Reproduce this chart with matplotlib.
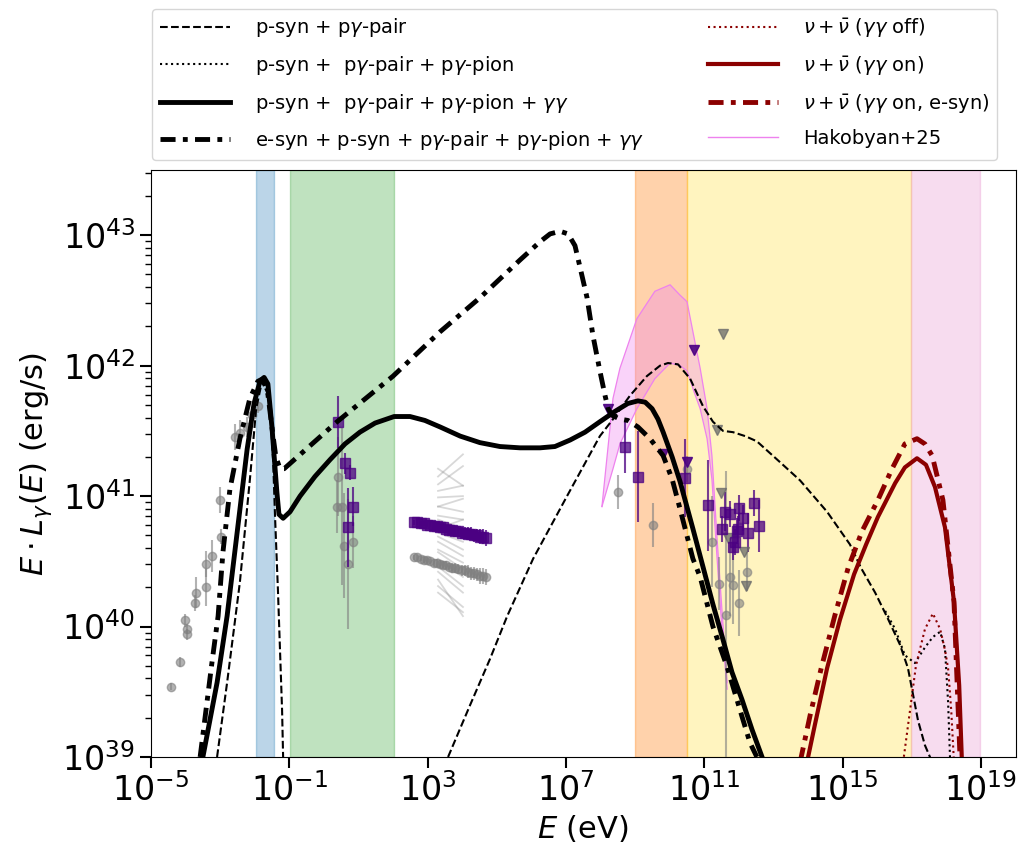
"""SED of the source: model curves, neutrino spectra and multiwavelength data."""

import matplotlib.pyplot as plt
import numpy as np
from matplotlib.lines import Line2D
from matplotlib.ticker import LogLocator, NullFormatter, NullLocator

# All values below are log10(E / eV) and log10(E L_E / erg s^-1)

# p-syn + pγ-pair (two pieces: low-energy bump, high-energy bump)
dash_lo_x = [-3.09, -2.80, -2.43, -2.14, -1.96, -1.79, -1.62, -1.56, -1.47, -1.41, -1.33, -1.27, -1.21, -1.18]
dash_lo_y = [39.00, 39.57, 40.34, 41.13, 41.67, 41.88, 41.78, 41.67, 41.28, 40.82, 40.28, 39.82, 39.36, 39.00]
dash_hi_x = [3.59, 4.23, 4.80, 5.30, 6.05, 7.03, 7.98, 8.36, 8.85, 9.34, 9.72, 9.95, 10.24, 10.59,
             10.96, 11.25, 11.54, 11.83, 12.18, 12.52, 13.19, 13.77, 14.55, 15.21, 15.53, 15.94,
             16.31, 16.66, 16.89, 17.18, 17.38, 17.59]
dash_hi_y = [39.00, 39.40, 39.75, 40.08, 40.52, 41.00, 41.46, 41.59, 41.77, 41.92, 42.00, 42.02, 42.01, 41.90,
             41.69, 41.57, 41.50, 41.49, 41.46, 41.42, 41.26, 41.12, 40.88, 40.63, 40.45, 40.26,
             40.06, 39.86, 39.68, 39.28, 39.09, 38.96]

# p-syn + pγ-pair + pγ-pion (only differs at the highest energies)
dot_x = [16.23, 16.52, 16.80, 17.09, 17.38, 17.61, 17.82, 17.96, 18.05, 18.11]
dot_y = [40.12, 39.98, 39.78, 39.72, 39.84, 39.92, 39.96, 39.83, 39.42, 38.96]

# p-syn + pγ-pair + pγ-pion + γγ
solid_x = [-3.50, -3.09, -2.80, -2.51, -2.22, -2.02, -1.85, -1.73, -1.62, -1.50, -1.36, -1.30, -1.18,
           -0.98, -0.69, -0.26, 0.18, 0.61, 1.04, 1.48, 2.03, 2.49, 2.92, 3.36, 3.94, 4.51, 5.09,
           5.67, 6.25, 6.68, 7.12, 7.55, 7.98, 8.42, 8.79, 9.08, 9.29, 9.49, 9.66, 9.81, 10.07,
           10.30, 10.67, 10.96, 11.25, 11.54, 11.80, 12.09, 12.38, 12.67]
solid_y = [39.00, 39.57, 40.08, 40.72, 41.36, 41.71, 41.88, 41.91, 41.86, 41.52, 41.03, 40.86, 40.83,
           40.88, 41.00, 41.15, 41.28, 41.40, 41.49, 41.56, 41.61, 41.61, 41.58, 41.53, 41.46, 41.41, 41.38,
           41.37, 41.37, 41.38, 41.43, 41.49, 41.57, 41.65, 41.71, 41.73, 41.72, 41.67, 41.59, 41.49, 41.30,
           41.11, 40.75, 40.46, 40.17, 39.90, 39.65, 39.44, 39.21, 39.00]

# e-syn + p-syn + pγ-pair + pγ-pion + γγ
dd_x = [-3.58, -3.24, -3.06, -2.92, -2.72, -2.43, -2.14, -1.91, -1.76, -1.62, -1.50, -1.39, -1.27, -1.15,
        -0.98, 0.38, 2.00, 3.36, 4.51, 5.67, 6.25, 6.54, 6.83, 7.06, 7.26, 7.41, 7.61, 7.78, 7.98, 8.13,
        8.22, 8.33, 8.56, 8.79, 9.08, 9.43, 9.81, 10.07, 10.30, 10.67, 10.88, 11.25, 11.66, 12.09, 12.32, 12.52]
dd_y = [39.00, 39.72, 40.08, 40.57, 41.05, 41.44, 41.75, 41.88, 41.90, 41.78, 41.52, 41.30, 41.21, 41.21,
        41.25, 41.57, 41.92, 42.26, 42.52, 42.81, 42.95, 43.01, 43.03, 43.01, 42.92, 42.75, 42.52, 42.23,
        41.96, 41.77, 41.67, 41.62, 41.59, 41.58, 41.53, 41.44, 41.31, 41.13, 40.90, 40.52, 40.38, 40.00,
        39.69, 39.31, 39.11, 39.00]

# neutrino spectra
nu_off_x = [16.75, 16.95, 17.12, 17.38, 17.61, 17.82, 17.96, 18.05, 18.14, 18.22]
nu_off_y = [38.96, 39.36, 39.70, 39.98, 40.10, 39.98, 39.82, 39.68, 39.36, 38.96]
nu_on_x = [13.97, 14.20, 14.55, 14.92, 15.33, 15.68, 16.02, 16.52, 16.80, 17.15, 17.41, 17.67, 17.96,
           18.22, 18.37, 18.45]
nu_on_y = [38.96, 39.25, 39.68, 40.05, 40.40, 40.63, 40.84, 41.10, 41.22, 41.29, 41.24, 41.07, 40.76,
           40.19, 39.55, 38.96]
nu_esyn_x = [13.77, 14.06, 14.38, 14.78, 15.16, 15.56, 16.02, 16.43, 16.80, 17.15, 17.38, 17.59, 17.90,
             18.22, 18.40]
nu_esyn_y = [38.96, 39.32, 39.68, 40.09, 40.45, 40.73, 40.97, 41.21, 41.40, 41.44, 41.40, 41.31, 40.97,
             40.19, 38.96]

# Hakobyan+25 band
hak_x = [8.04, 8.36, 8.56, 9.05, 9.57, 10.01, 10.30, 10.50, 10.73, 10.88, 11.08, 11.22, 11.37, 11.51, 11.66]
hak_hi = [40.92, 41.75, 41.98, 42.36, 42.57, 42.62, 42.54, 42.49, 42.18, 41.98, 41.67, 41.31, 40.67, 40.13, 39.57]
hak_lo = [40.92, 41.21, 41.40, 41.67, 41.90, 42.02, 42.00, 41.96, 41.78, 41.67, 41.44, 41.13, 40.52, 39.98, 39.52]

# energy bands (log10 E, lower/upper) and colours
band_lo = [-1.96, -0.98, 9.0, 10.50, 16.98]
band_hi = [-1.44, 2.03, 10.50, 16.98, 18.97]
band_colors = ["tab:blue", "tab:green", "tab:orange", "gold", "tab:pink"]
band_alpha = [0.3, 0.3, 0.35, 0.25, 0.25]

# data: archival (gray circles)
gray_x = [-4.42, -4.16, -3.96, -3.96, -4.02, -3.73, -3.70, -3.41, -3.41, -3.24, -2.98, -3.00, -2.57, -2.43,
          -2.22, -2.08, -1.91, 0.41, 0.38, 0.52, 0.58, 0.84, 0.70, 8.50, 9.52, 10.50, 11.22, 11.74, 11.83,
          11.43, 11.63, 12.00, 12.23]
gray_y = [39.54, 39.73, 39.94, 39.98, 40.05, 40.18, 40.26, 40.30, 40.48, 40.54, 40.69, 40.97, 41.45, 41.48,
          41.53, 41.62, 41.69, 41.15, 40.92, 40.92, 40.62, 40.65, 40.48, 41.03, 40.78, 41.21, 40.65, 40.38, 40.32,
          40.33, 40.09, 40.18, 40.42]
gray_err = [0.03, 0.04, 0.04, 0.04, 0.05, 0.06, 0.12, 0.14, 0.10, 0.12, 0.06, 0.10, 0.10, 0.10,
            0.08, 0.06, 0.05, 0.30, 0.20, 0.60, 0.40, 0.20, 0.50, 0.13, 0.17, 0.10, 0.35, 0.30, 0.30,
            0.20, 1.10, 0.25, 0.15]

# data: this work (purple squares)
sq_x = [0.41, 0.61, 0.75, 0.84, 0.70, 8.71, 9.08, 10.44, 11.11, 11.60, 11.74, 12.00, 12.12, 11.98, 11.51,
        11.95, 11.89, 11.83, 12.26, 12.44, 12.58]
sq_y = [41.57, 41.25, 41.18, 40.92, 40.76, 41.38, 41.15, 41.14, 40.93, 40.88, 40.86, 40.91, 40.83, 40.75, 40.75,
        40.73, 40.65, 40.61, 40.72, 40.95, 40.77]
sq_err = [0.20, 0.08, 0.06, 0.15, 0.30, 0.20, 0.35, 0.30, 0.35, 0.15, 0.10, 0.10, 0.10, 0.10, 0.10,
          0.10, 0.10, 0.10, 0.15, 0.10, 0.20]

# X-ray spectra (binned)
xr_x = [2.61, 2.70, 2.80, 2.90, 2.99, 3.08, 3.17, 3.26, 3.35, 3.44, 3.53, 3.62, 3.71, 3.80, 3.89, 3.98,
        4.07, 4.16, 4.25, 4.34, 4.43, 4.52, 4.61, 4.70]
xr_purple = [40.80, 40.80, 40.79, 40.79, 40.78, 40.78, 40.77, 40.77, 40.76, 40.76, 40.75, 40.74, 40.74,
             40.73, 40.73, 40.72, 40.72, 40.71, 40.71, 40.70, 40.70, 40.69, 40.69, 40.68]
xr_gray = [40.53, 40.53, 40.52, 40.51, 40.51, 40.50, 40.49, 40.49, 40.48, 40.47, 40.47, 40.46, 40.45,
           40.45, 40.44, 40.43, 40.43, 40.42, 40.41, 40.41, 40.40, 40.39, 40.39, 40.38]
xr_err = [0.02, 0.02, 0.02, 0.02, 0.02, 0.02, 0.03, 0.03, 0.03, 0.03, 0.03, 0.03, 0.04, 0.04, 0.04, 0.04,
          0.04, 0.05, 0.05, 0.05, 0.05, 0.06, 0.06, 0.06]

# X-ray power-law fits per epoch (value at each end)
pl_x = [3.30, 4.02]
pl_left = [41.15, 41.09, 41.04, 40.99, 40.92, 40.85, 40.82, 40.77, 40.72, 40.69, 40.65, 40.59, 40.57,
           40.52, 40.46, 40.42, 40.36, 40.31, 40.26, 41.21, 40.92, 40.75]
pl_right = [41.32, 41.23, 41.08, 41.00, 40.88, 40.82, 40.75, 40.69, 40.65, 40.59, 40.54, 40.49, 40.44,
            40.38, 40.31, 40.26, 40.08, 40.15, 40.11, 41.08, 40.98, 40.82]

# upper limits (downward triangles)
ul_purple_x = [10.70, 9.81, 10.50, 8.22]
ul_purple_y = [42.12, 41.32, 41.26, 41.67]
ul_gray_x = [11.54, 11.37, 11.48, 11.68, 12.15, 12.21]
ul_gray_y = [42.24, 41.51, 41.02, 40.68, 40.57, 40.31]


def p(a):
    return 10.0 ** np.asarray(a)


def err(y, e):
    y = np.asarray(y)
    e = np.asarray(e)
    return [p(y) - p(y - e), p(y + e) - p(y)]


fig = plt.figure(figsize=(10.19, 8.52), dpi=100)
ax = fig.add_axes([0.1482, 0.1115, 0.8484, 0.689])

for lo, hi, c, a in zip(band_lo, band_hi, band_colors, band_alpha):
    ax.axvspan(p(lo), p(hi), color=c, alpha=a, zorder=0)

# Hakobyan+25 band
ax.fill_between(p(hak_x), p(hak_lo), p(hak_hi), facecolor="violet", alpha=0.35, edgecolor="none", zorder=1)
ax.plot(p(hak_x), p(hak_hi), color="violet", lw=0.9, zorder=1)
ax.plot(p(hak_x), p(hak_lo), color="violet", lw=0.9, zorder=1)

# power-law fits
for yl, yr in zip(pl_left, pl_right):
    ax.plot(p(pl_x), p([yl, yr]), color="gray", alpha=0.3, lw=1.3, zorder=2)

# data points
ax.errorbar(p(gray_x), p(gray_y), yerr=err(gray_y, gray_err),
            fmt="o", ms=6, color="gray", alpha=0.6, elinewidth=1.5, zorder=3)
ax.errorbar(p(xr_x), p(xr_gray), yerr=err(xr_gray, xr_err),
            fmt="o", ms=6, color="gray", alpha=0.6, elinewidth=1.5, zorder=3)
ax.errorbar(p(sq_x), p(sq_y), yerr=err(sq_y, sq_err),
            fmt="s", ms=6.5, color="indigo", alpha=0.75, elinewidth=1.5, zorder=4)
ax.errorbar(p(xr_x), p(xr_purple), yerr=err(xr_purple, xr_err),
            fmt="s", ms=6.5, color="indigo", alpha=0.75, elinewidth=1.5, zorder=4)
ax.plot(p(ul_gray_x), p(ul_gray_y), "v", ms=7, color="dimgray", alpha=0.75, ls="none", zorder=4)
ax.plot(p(ul_purple_x), p(ul_purple_y), "v", ms=7, color="indigo", alpha=0.9, ls="none", zorder=4)

# model curves
dd_style = (0, (3.1, 1.5, 1.0, 1.5))
ax.plot(p(dash_lo_x), p(dash_lo_y), color="black", ls="--", lw=1.5, zorder=5)
ax.plot(p(dash_hi_x), p(dash_hi_y), color="black", ls="--", lw=1.5, zorder=5)
ax.plot(p(dot_x), p(dot_y), color="black", ls=":", lw=1.5, zorder=5)
ax.plot(p(solid_x), p(solid_y), color="black", ls="-", lw=3.5, zorder=6)
ax.plot(p(dd_x), p(dd_y), color="black", ls=dd_style, lw=3.5, zorder=6)

ax.plot(p(nu_off_x), p(nu_off_y), color="darkred", ls=":", lw=1.5, zorder=5)
ax.plot(p(nu_on_x), p(nu_on_y), color="darkred", ls="-", lw=3.0, zorder=6)
ax.plot(p(nu_esyn_x), p(nu_esyn_y), color="darkred", ls=dd_style, lw=3.5, zorder=6)

ax.set_xscale("log")
ax.set_yscale("log")
ax.set_xlim(1e-5, 1e20)
ax.set_ylim(1e39, 10**43.5)
ax.set_xticks([1e-5, 1e-1, 1e3, 1e7, 1e11, 1e15, 1e19])
ax.xaxis.set_minor_locator(NullLocator())
ax.yaxis.set_major_locator(LogLocator(base=10, numticks=10))
ax.yaxis.set_minor_locator(LogLocator(base=10, subs=np.arange(2, 10), numticks=10))
ax.yaxis.set_minor_formatter(NullFormatter())
ax.tick_params(which="major", labelsize=24, length=8, width=1.5)
ax.tick_params(which="minor", length=4, width=1)
ax.set_xlabel(r"$E$ (eV)", fontsize=22)
ax.set_ylabel(r"$E\cdot L_{\gamma}(E)$ (erg/s)", fontsize=22, labelpad=6)

handles = [
    Line2D([], [], color="black", ls="--", lw=1.5),
    Line2D([], [], color="black", ls=":", lw=1.5),
    Line2D([], [], color="black", ls="-", lw=3.5),
    Line2D([], [], color="black", ls=dd_style, lw=3.5),
    Line2D([], [], color="darkred", ls=":", lw=1.5),
    Line2D([], [], color="darkred", ls="-", lw=3.0),
    Line2D([], [], color="darkred", ls=dd_style, lw=3.5),
    Line2D([], [], color="violet", lw=1.0),
]
labels = [
    r"p-syn + p$\gamma$-pair",
    r"p-syn +  p$\gamma$-pair + p$\gamma$-pion",
    r"p-syn +  p$\gamma$-pair + p$\gamma$-pion + $\gamma\gamma$",
    r"e-syn + p-syn + p$\gamma$-pair + p$\gamma$-pion + $\gamma\gamma$",
    r"$\nu+\bar{\nu}$ ($\gamma\gamma$ off)",
    r"$\nu+\bar{\nu}$ ($\gamma\gamma$ on)",
    r"$\nu+\bar{\nu}$ ($\gamma\gamma$ on, e-syn)",
    "Hakobyan+25",
]
ax.legend(handles, labels, ncol=2, fontsize=14, loc="lower left",
          bbox_to_anchor=(0.001, 1.017, 0.978, 0.25), mode="expand", borderaxespad=0,
          handlelength=3.6, handletextpad=1.3, labelspacing=0.75)

fig.savefig("out.png", dpi=100)
